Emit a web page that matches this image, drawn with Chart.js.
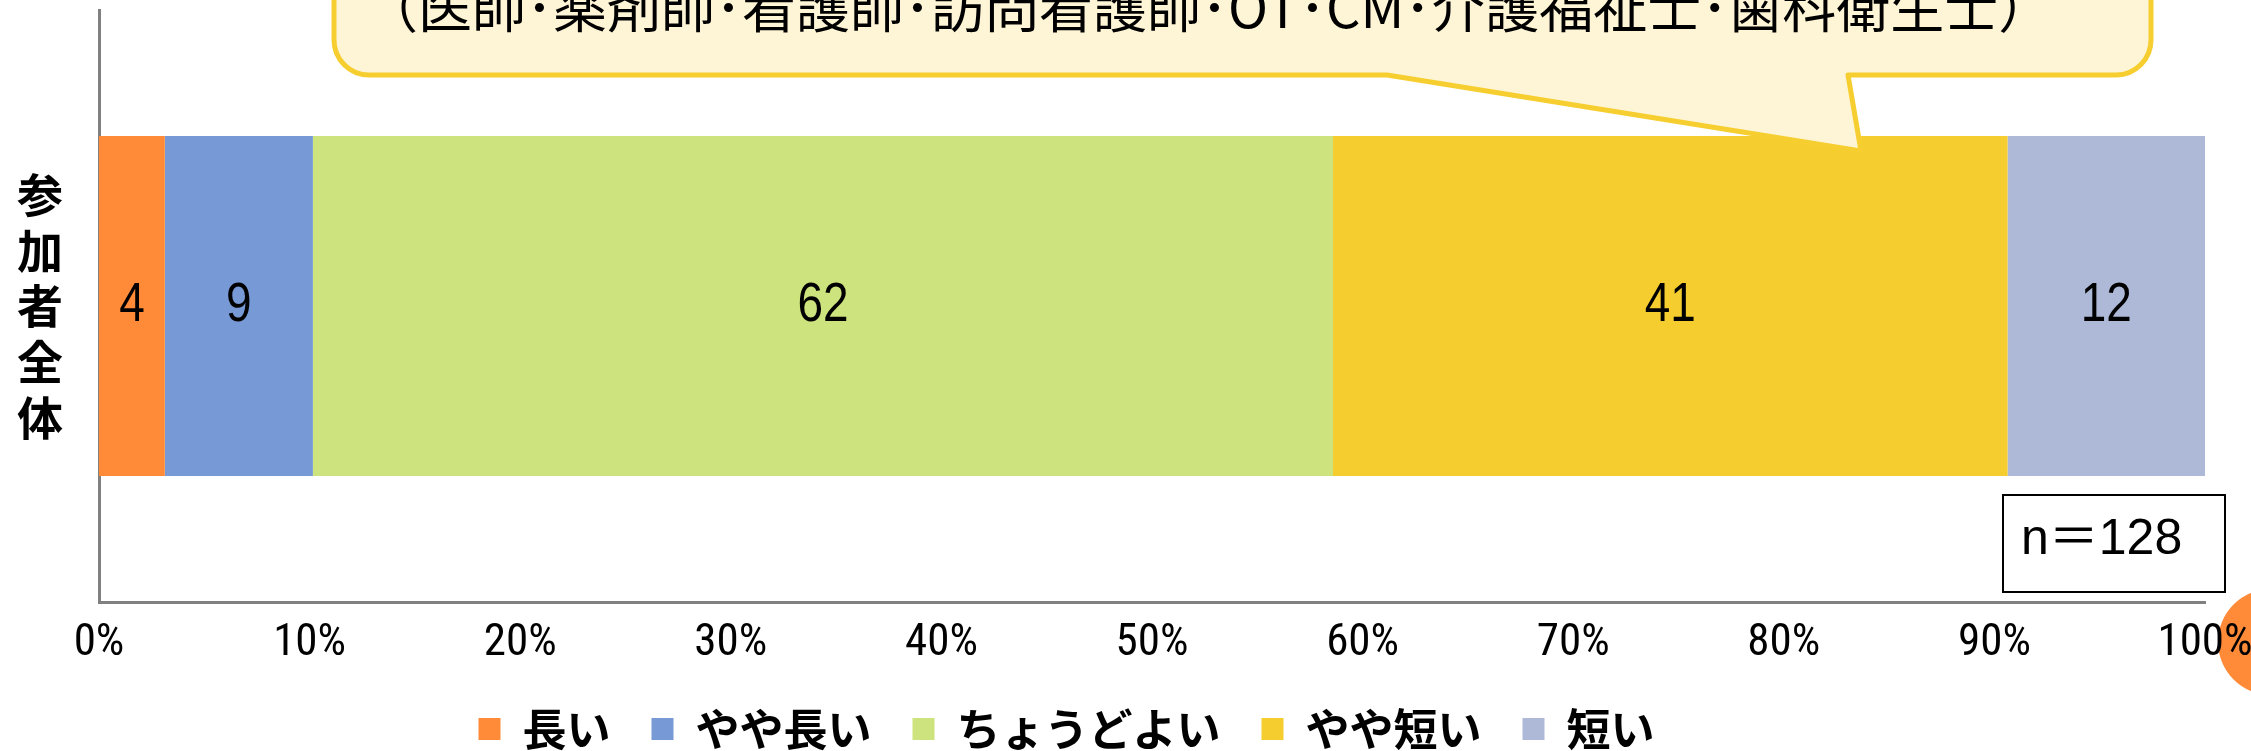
<!DOCTYPE html>
<html lang="ja">
<head>
<meta charset="utf-8">
<title>参加者全体</title>
<script src="https://cdn.jsdelivr.net/npm/chart.js@4.4.1/dist/chart.umd.min.js"></script>
<style>
html, body { margin: 0; padding: 0; background: #fff; }
#wrap { width: 2251px; height: 751px; overflow: hidden; }
</style>
</head>
<body>
<div id="wrap"><canvas id="myChart" width="2251" height="751"></canvas></div>
<script>
"use strict";

// one bar, its label is written top to bottom
var categories = [["参", "加", "者", "全", "体"]];
// answer options and number of answers for each
var seriesNames = ["長い", "やや長い", "ちょうどよい", "やや短い", "短い"];
var counts = [4, 9, 62, 41, 12];
var xTickLabels = ["0%", "10%", "20%", "30%", "40%", "50%", "60%", "70%", "80%", "90%", "100%"];
var sampleNote = "n＝128";
var calloutText = "（医師･薬剤師･看護師･訪問看護師･OT･CM･介護福祉士･歯科衛生士）";

var colors = ["#FF8B38", "#7799D6", "#CDE37D", "#F5CD2E", "#ADB9D6"];
var tickFont = "'Roboto Condensed', 'DejaVu Sans Condensed', 'Noto Sans CJK JP', sans-serif";
var jpFont = "'Noto Sans CJK JP', sans-serif";

var total = counts.reduce(function (a, b) { return a + b; }, 0);

//build one dataset per answer, stacked to 100%
var datasets = [];
for (var i = 0; i < seriesNames.length; i = i + 1) {
	datasets.push({
		label: seriesNames[i],
		data: [counts[i] / total * 100],
		backgroundColor: colors[i],
		borderWidth: 0,
		barPercentage: 0.574,
		categoryPercentage: 1.0
	});
}

// counts written in the middle of each piece (narrow, thin digits)
var valueLabels = {
	id: "valueLabels",
	afterDatasetsDraw: function (chart) {
		var ctx = chart.ctx;
		ctx.save();
		ctx.font = "56px 'Liberation Sans', sans-serif";
		ctx.fillStyle = "#000";
		ctx.textAlign = "center";
		ctx.textBaseline = "middle";
		chart.data.datasets.forEach(function (ds, i) {
			chart.getDatasetMeta(i).data.forEach(function (bar) {
				var p = bar.getCenterPoint();
				ctx.save();
				ctx.translate(p.x, p.y);
				ctx.scale(0.82, 1);
				ctx.fillText(String(counts[i]), 0, 0);
				ctx.restore();
			});
		});
		ctx.restore();
	}
};

// the things put on top of the chart: circle, n box, speech bubble
var notes = {
	id: "notes",
	afterLayout: function (chart) {
		// legend sits a bit left of the middle
		chart.legend.left -= 36;
		chart.legend.right -= 36;
	},
	beforeDraw: function (chart) {
		var ctx = chart.ctx, a = chart.chartArea;
		ctx.save();
		ctx.fillStyle = colors[0];
		ctx.beginPath();
		ctx.arc(a.right + 66, a.bottom + 40, 53, 0, Math.PI * 2);
		ctx.fill();
		ctx.restore();
	},
	afterDraw: function (chart) {
		var ctx = chart.ctx, a = chart.chartArea;
		ctx.save();
		// n box
		ctx.strokeStyle = "#000";
		ctx.lineWidth = 2;
		ctx.strokeRect(a.right - 202, a.bottom - 107, 222, 97);
		ctx.fillStyle = "#000";
		ctx.font = "50px 'Liberation Sans', 'Noto Sans CJK JP', sans-serif";
		ctx.textAlign = "left";
		ctx.textBaseline = "middle";
		ctx.fillText(sampleNote, a.right - 184, a.bottom - 62);

		// speech bubble
		var l = 334, r = 2151, b = 75, rad = 35;
		ctx.beginPath();
		ctx.moveTo(l, -60);
		ctx.lineTo(l, b - rad);
		ctx.arcTo(l, b, l + rad, b, rad);
		ctx.lineTo(1387, b);
		ctx.lineTo(1861, 151);
		ctx.lineTo(1848, b);
		ctx.lineTo(r - rad, b);
		ctx.arcTo(r, b, r, b - rad, rad);
		ctx.lineTo(r, -60);
		ctx.closePath();
		ctx.fillStyle = "#FEF5D6";
		ctx.fill();
		ctx.strokeStyle = "#F6CE30";
		ctx.lineWidth = 5;
		ctx.lineJoin = "round";
		ctx.stroke();
		ctx.fillStyle = "#000";
		ctx.font = "54px " + jpFont;
		ctx.textAlign = "left";
		ctx.textBaseline = "alphabetic";
		ctx.fillText(calloutText, 364, 28);
		ctx.restore();
	}
};

function buildChart() {
	var ctx = document.getElementById("myChart");
	var myChart = new Chart(ctx, {
		type: "bar",
		data: {
			labels: categories,
			datasets: datasets
		},
		options: {
			indexAxis: "y",
			responsive: false,
			animation: false,
			devicePixelRatio: 1,
			layout: { padding: { left: 0, right: 46, top: 10, bottom: -10 } },
			scales: {
				x: {
					stacked: true,
					min: 0,
					max: 100,
					grid: { display: false, drawTicks: false },
					border: { display: true, color: "#808080", width: 3 },
					ticks: {
						stepSize: 10,
						padding: 15,
						color: "#000",
						font: { family: tickFont, size: 45 },
						callback: function (v, i) { return xTickLabels[i]; }
					},
					afterFit: function (scale) {
						scale.height = 64;
						scale.paddingLeft = 0;
						scale.paddingRight = 0;
					}
				},
				y: {
					stacked: true,
					grid: { display: false, drawTicks: false },
					border: { display: true, color: "#808080", width: 3 },
					ticks: {
						padding: 36,
						color: "#000",
						font: { family: jpFont, size: 46, weight: "bold", lineHeight: 1.21 }
					},
					afterFit: function (scale) {
						scale.width = 99;
						// the tall label must not squeeze the plot
						scale.paddingTop = 0;
						scale.paddingBottom = 0;
					}
				}
			},
			plugins: {
				legend: {
					position: "bottom",
					labels: {
						boxWidth: 22,
						boxHeight: 22,
						padding: 41,
						color: "#000",
						font: { family: jpFont, size: 44, weight: "bold" }
					}
				},
				tooltip: { enabled: false }
			}
		},
		plugins: [valueLabels, notes]
	});
}

console.log("starting...");
buildChart();
</script>
</body>
</html>
